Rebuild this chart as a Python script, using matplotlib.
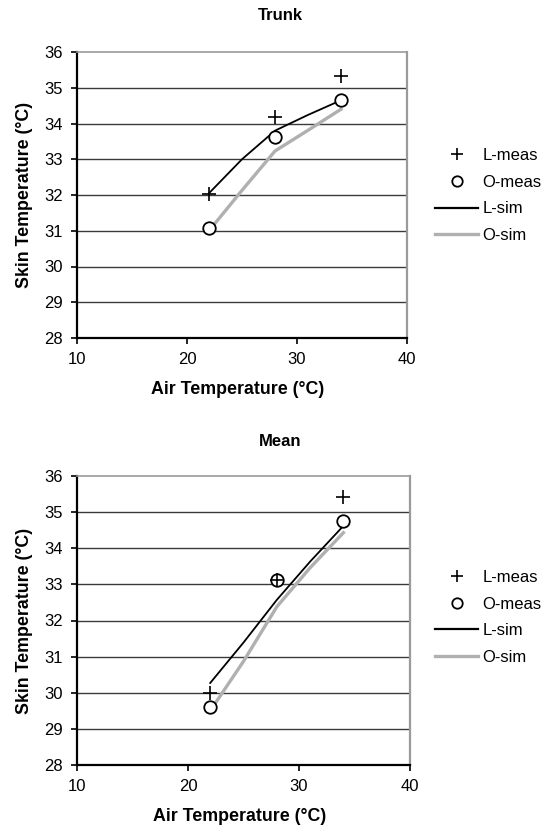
import matplotlib
matplotlib.use("Agg")
import matplotlib.pyplot as plt
from matplotlib.lines import Line2D

plt.rcParams['font.family'] = ['Liberation Sans', 'DejaVu Sans']

# measured points (air temp, skin temp)
meas_x = [22, 28, 34]
trunk_l_meas = [32.03, 34.17, 35.32]
trunk_o_meas = [31.07, 33.61, 34.65]
mean_l_meas = [30.0, 33.12, 35.41]
mean_o_meas = [29.61, 33.12, 34.75]

# simulated curves
sim_x = [22, 25, 28, 31, 34]
trunk_l_sim = [32.05, 33.0, 33.8, 34.24, 34.65]
trunk_o_sim = [31.0, 32.13, 33.23, 33.81, 34.4]
mean_l_sim = [30.27, 31.39, 32.57, 33.63, 34.62]
mean_o_sim = [29.5, 30.87, 32.38, 33.46, 34.43]

titles = ["Trunk", "Mean"]
xticks = [10, 20, 30, 40]
yticks = [28, 29, 30, 31, 32, 33, 34, 35, 36]

W, H = 558, 827
fig = plt.figure(figsize=(W / 100, H / 100), dpi=100)


def px_axes(left, top, right, bottom):
	return fig.add_axes([left / W, 1 - bottom / H, (right - left) / W, (bottom - top) / H])


def draw(ax, l_meas, o_meas, l_sim, o_sim, title, title_y, legend_y, xlab_y):
	ax.set_xlim(10, 40)
	ax.set_ylim(28, 36)
	ax.set_xticks(xticks)
	ax.set_yticks(yticks)
	for y in yticks[1:-1]:
		ax.axhline(y, color="#3a3a3a", lw=1.0, zorder=1)
	ax.spines["left"].set_color("black")
	ax.spines["bottom"].set_color("black")
	ax.spines["left"].set_linewidth(1.6)
	ax.spines["bottom"].set_linewidth(1.6)
	ax.spines["top"].set_color("#9a9a9a")
	ax.spines["right"].set_color("#9a9a9a")
	ax.spines["top"].set_linewidth(1.2)
	ax.spines["right"].set_linewidth(1.6)
	ax.tick_params(direction="out", length=4, width=1.2, labelsize=12, pad=6,
				   top=False, right=False)

	ax.plot(sim_x, l_sim, color="black", lw=1.3, zorder=3)
	ax.plot(sim_x, o_sim, color="#b0b0b0", lw=2.4, zorder=2)
	ax.plot(meas_x, o_meas, ls="none", marker="o", ms=9, mew=1.3, mfc="white",
			mec="black", zorder=4)
	ax.plot(meas_x, l_meas, ls="none", marker="+", ms=10, mew=1.2, color="black", zorder=5)

	ax.set_xlabel("Air Temperature (°C)", fontsize=12.8, fontweight="bold")
	ax.xaxis.set_label_coords(0.487, xlab_y)
	ax.set_ylabel("Skin Temperature (°C)", fontsize=12.8, fontweight="bold", labelpad=8)
	fig.text(280 / W, 1 - title_y / H, title, ha="center", va="center",
			 fontsize=12, fontweight="bold")

	handles = [
		Line2D([], [], ls="none", marker="+", ms=9, mew=1.2, color="black"),
		Line2D([], [], ls="none", marker="o", ms=7.5, mew=1.3, mfc="white", mec="black"),
		Line2D([], [], color="black", lw=1.6),
		Line2D([], [], color="#b0b0b0", lw=2.4),
	]
	fig.legend(handles, ["L-meas", "O-meas", "L-sim", "O-sim"],
			   loc="upper left", bbox_to_anchor=(435 / W, 1 - legend_y / H),
			   frameon=False, fontsize=12, handlelength=2.6,
			   handletextpad=0.25, labelspacing=0.7, borderpad=0, borderaxespad=0)


ax1 = px_axes(77, 52, 407, 338)
draw(ax1, trunk_l_meas, trunk_o_meas, trunk_l_sim, trunk_o_sim, titles[0], 16, 148, -0.152)

ax2 = px_axes(77, 476, 410, 765)
draw(ax2, mean_l_meas, mean_o_meas, mean_l_sim, mean_o_sim, titles[1], 442, 570, -0.15)

fig.savefig("out.png", dpi=100)
